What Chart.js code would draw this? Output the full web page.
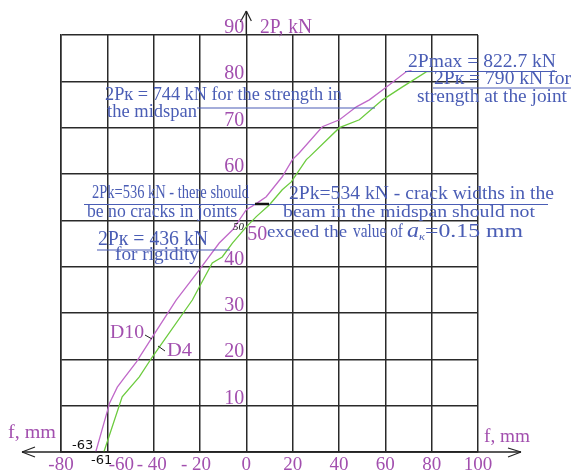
<!DOCTYPE html>
<html>
<head>
<meta charset="utf-8">
<script src="https://cdn.jsdelivr.net/npm/chart.js@4/dist/chart.umd.min.js"></script>
<style>
  html, body { margin: 0; padding: 0; background: #fff; }
  #wrap { width: 571px; height: 472px; position: relative; }
</style>
</head>
<body>
<div id="wrap"><canvas id="chart"></canvas></div>
<script>
// deflection f (mm) vs load 2P (kN/10)
const d10X = [-65, -59, -55.7, -52.7, -47.5, -40.6, -30.3, -20.3, -11.7, -6, 0, 4.3, 8.6, 15.5, 19.9, 22.9, 32.8, 40.2, 47.5, 53.1, 60.5, 69.1, 71.3]
const d10Y = [0, 10.6, 14, 16, 19.4, 24.8, 32.8, 39.3, 45.1, 47.9, 52.3, 53.6, 55.1, 59.4, 63.1, 64.6, 70.2, 71.7, 74.5, 76, 78.8, 82.1, 82.3]
const d4X = [-61.5, -53.6, -46.2, -40.6, -23.3, -20.3, -14.7, -10.4, -6, 0, 4.3, 9.9, 15.5, 19.4, 25.9, 27.2, 40.2, 48.8, 58.8, 67.4, 77.8, 79.9]
const d4Y = [0, 11.9, 16.2, 20.5, 32.8, 35.6, 40.8, 42.1, 45.1, 48.6, 50.8, 53.3, 56.6, 58.3, 63.1, 63.7, 70, 71.7, 76, 78.8, 82.1, 82.1]

const xTicks = [-80, -60, -40, -20, 0, 20, 40, 60, 80, 100]
const xTickLabels = ['-80', '-60', '- 40', '- 20', '0', '20', '40', '60', '80', '100']
const yTicks = [10, 20, 30, 40, 50, 60, 70, 80, 90]

const PURPLE = '#a24fae'
const BLUE = '#4a5db5'
const SERIF = '"Liberation Serif", "DejaVu Serif", serif'

// text squeezed/stretched to a given width
function txt(ctx, s, x, y, w, size, color, style) {
    ctx.save()
    ctx.font = (style || '') + ' ' + size + 'px ' + SERIF
    ctx.fillStyle = color
    ctx.textAlign = 'left'
    ctx.textBaseline = 'alphabetic'
    const m = ctx.measureText(s).width
    ctx.translate(x, y)
    if (w) ctx.scale(w / m, 1)
    ctx.fillText(s, 0, 0)
    ctx.restore()
}

function line(ctx, x1, y1, x2, y2, color, width) {
    ctx.save()
    ctx.strokeStyle = color
    ctx.lineWidth = width || 1
    ctx.beginPath()
    ctx.moveTo(x1, y1)
    ctx.lineTo(x2, y2)
    ctx.stroke()
    ctx.restore()
}

const decor = {
    id: 'decor',
    afterDraw(chart) {
        const ctx = chart.ctx
        const xs = chart.scales.x, ys = chart.scales.y
        const x0 = xs.getPixelForValue(0), y0 = ys.getPixelForValue(0)

        // axes with arrows
        line(ctx, 22, y0, 521, y0, '#222', 1.5)
        line(ctx, 22, y0, 35, y0 - 5, '#222', 1.2)
        line(ctx, 22, y0, 35, y0 + 5, '#222', 1.2)
        line(ctx, 521, y0, 508, y0 - 4, '#222', 1.2)
        line(ctx, 521, y0, 508, y0 + 5, '#222', 1.2)
        line(ctx, x0, ys.getPixelForValue(90), x0, 11, '#222', 1.5)
        line(ctx, x0, 11, x0 - 6, 22, '#222', 1.2)
        line(ctx, x0, 11, x0 + 5, 21, '#222', 1.2)

        // tick labels
        ctx.save()
        ctx.font = '19px ' + SERIF
        ctx.fillStyle = PURPLE
        ctx.textAlign = 'center'
        xTicks.forEach((v, i) => {
            const nudge = v === -60 ? 14 : (v === -40 ? -2 : (v === -20 ? -4 : 0))
            ctx.fillText(xTickLabels[i], xs.getPixelForValue(v) + nudge, 470)
        })
        ctx.font = '20px ' + SERIF
        yTicks.forEach(v => {
            const py = ys.getPixelForValue(v)
            if (v === 50) {
                ctx.textAlign = 'left'
                ctx.fillText(String(v), x0 + 1, py + 20)
            } else {
                ctx.textAlign = 'right'
                ctx.fillText(String(v), x0 - 2, py - 2)
            }
        })
        ctx.restore()

        txt(ctx, '2P, kN', 260, 33, 52, 20, PURPLE)
        txt(ctx, 'f, mm', 8, 438, 48, 19, PURPLE)
        txt(ctx, 'f, mm', 484, 442, 46, 19, PURPLE)

        // start values
        ctx.save()
        ctx.font = '13px "DejaVu Sans", sans-serif'
        ctx.fillStyle = '#111'
        ctx.fillText('-63', 72, 449)
        ctx.fillText('-61', 91, 464)
        ctx.font = 'italic 11px ' + SERIF
        ctx.fillText('50', 233, 230)
        ctx.restore()

        // curve labels
        txt(ctx, 'D10', 110, 338, 34, 19, PURPLE)
        line(ctx, 145, 335, 152, 339, '#222', 1)
        txt(ctx, 'D4', 167, 356, 25, 19, PURPLE)
        line(ctx, 158, 346, 165, 351, '#222', 1)

        // annotations
        txt(ctx, '2Pmax = 822.7 kN', 408, 67, 148, 19, BLUE)
        line(ctx, 405, 71.5, 557, 71.5, BLUE, 1.2)
        txt(ctx, '2P\u043a = 790 kN for', 434, 84, 137, 18, BLUE)
        line(ctx, 433, 88, 571, 88, BLUE, 1.2)
        txt(ctx, 'strength at the joint', 417, 102, 150, 18, BLUE)

        txt(ctx, '2P\u043a = 744 kN for the strength in', 105, 100, 237, 18, BLUE)
        txt(ctx, 'the midspan', 107, 117, 90, 18, BLUE)
        line(ctx, 197, 108, 375, 108, BLUE, 1.2)

        txt(ctx, '2Pk=536 kN - there should', 92, 198, 157, 19, BLUE)
        line(ctx, 84, 204.5, 548, 204.5, BLUE, 1.2)
        line(ctx, 255, 204, 269, 204, '#111', 2.5)
        txt(ctx, 'be no cracks in joints', 87, 217, 150, 18, BLUE)

        txt(ctx, '2Pk=534 kN - crack widths in the', 289, 199, 265, 19, BLUE)
        txt(ctx, 'beam in the midspan should not', 283, 217, 252, 17, BLUE)
        txt(ctx, 'exceed the', 267, 237, 80, 16, BLUE)
        txt(ctx, 'value of', 353, 237, 50, 19, BLUE)
        txt(ctx, 'a', 407, 237, 12, 21, BLUE, 'italic')
        txt(ctx, '\u043a', 419, 240, 6, 10, BLUE, 'italic')
        txt(ctx, '=0.15 mm', 425, 237, 98, 19, BLUE)

        txt(ctx, '2P\u043a = 436 kN', 98, 245, 110, 20, BLUE)
        line(ctx, 97, 250, 230, 250, BLUE, 1.2)
        txt(ctx, 'for rigidity', 115, 260, 84, 18, BLUE)
    }
}

new Chart(document.getElementById('chart'), {
    type: 'scatter',
    data: {
        datasets: [
            {
                label: 'D10',
                data: d10X.map((x, i) => ({ x: x, y: d10Y[i] })),
                showLine: true,
                borderColor: '#c069c9',
                borderWidth: 1.3,
                pointRadius: 0,
                tension: 0
            },
            {
                label: 'D4',
                data: d4X.map((x, i) => ({ x: x, y: d4Y[i] })),
                showLine: true,
                borderColor: '#6ccb3e',
                borderWidth: 1.3,
                pointRadius: 0,
                tension: 0
            }
        ]
    },
    options: {
        responsive: true,
        maintainAspectRatio: false,
        animation: false,
        layout: { padding: { left: 61, right: 93, top: 35, bottom: 20 } },
        plugins: {
            legend: { display: false },
            tooltip: { enabled: false }
        },
        scales: {
            x: {
                type: 'linear',
                min: -80,
                max: 100,
                ticks: { display: false, stepSize: 20 },
                grid: { color: '#2a2a2a', lineWidth: 1.5, drawTicks: false },
                border: { color: '#2a2a2a', width: 1.5 }
            },
            y: {
                type: 'linear',
                min: 0,
                max: 90,
                ticks: { display: false, stepSize: 10 },
                grid: { color: '#2a2a2a', lineWidth: 1.5, drawTicks: false },
                border: { color: '#2a2a2a', width: 1.5 }
            }
        }
    },
    plugins: [decor]
})
</script>
</body>
</html>
